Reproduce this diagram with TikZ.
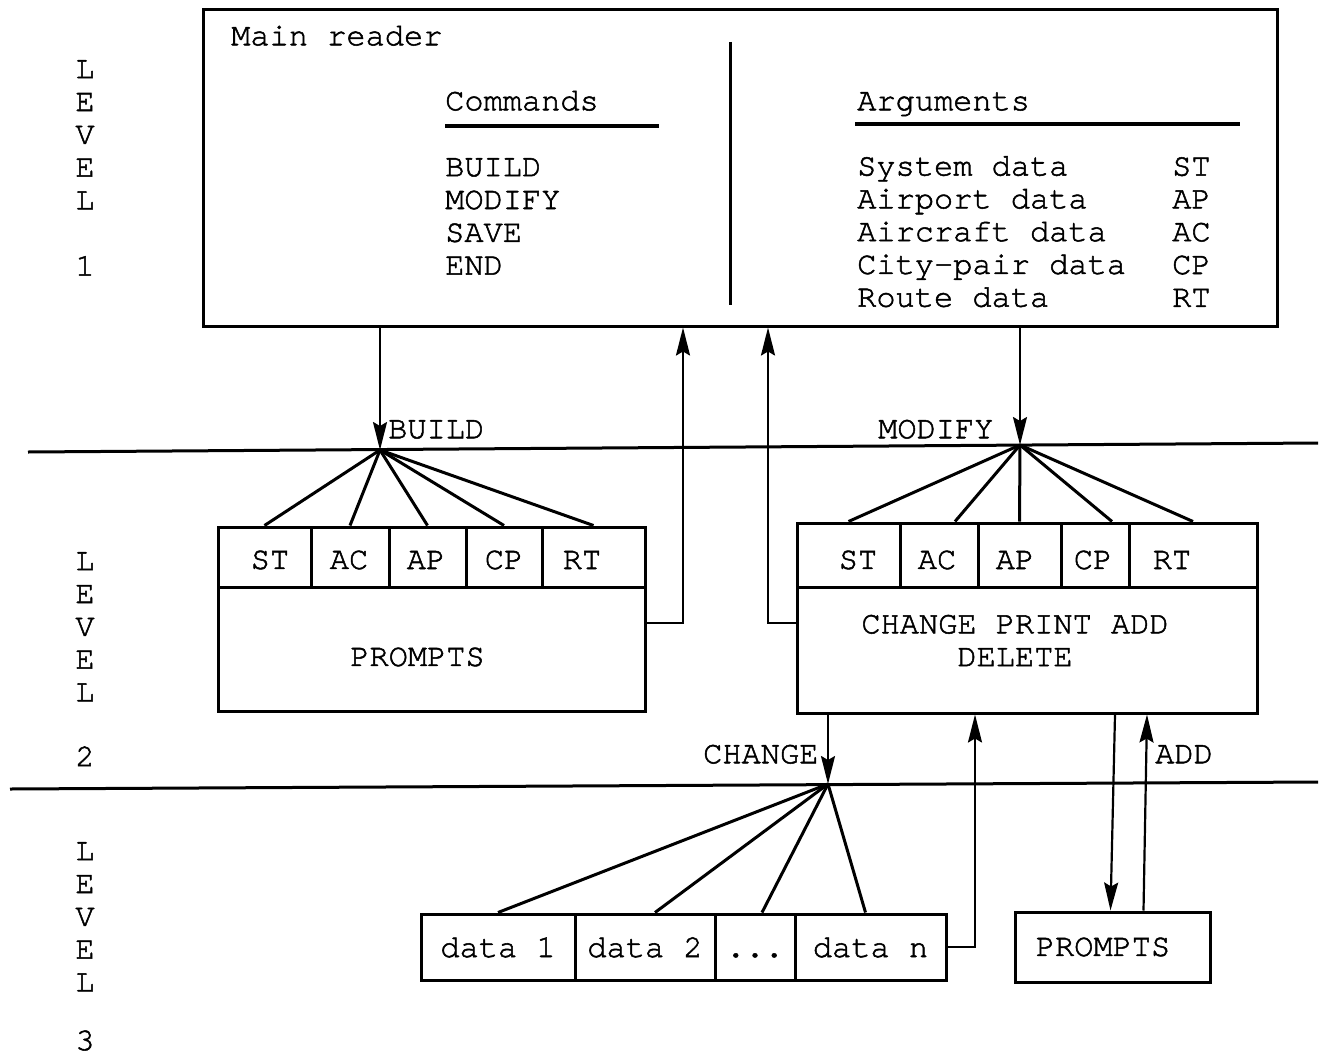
\documentclass[tikz,border=0pt]{standalone}
\usepackage{fontspec}
\setmainfont{texgyrecursor-regular.otf}[UprightFeatures={FakeBold=1.6}]
\usetikzlibrary{arrows.meta}
\tikzset{
  every node/.style={font=\fontsize{32}{32.8}\selectfont, inner sep=0pt},
  box/.style={draw, line width=3pt, rectangle, inner sep=0pt},
  txt/.style={anchor=west, text height=18.5pt, text depth=0pt},
  cellt/.style={text height=20pt, text depth=0pt},
  col/.style={anchor=north west, align=left},
  lvl/.style={anchor=north, align=center},
  fan/.style={line width=3pt},
  rule/.style={line width=3pt},
  uline/.style={line width=4pt},
  flow/.style={line width=2.2pt, -{Stealth[length=28pt,width=14pt,inset=4pt]}},
}
\begin{document}
\begin{tikzpicture}[x=1pt,y=-1pt]
\useasboundingbox (0,0) rectangle (1324,1057);

% ---- level 1: main reader ----
\node[box, minimum width=1074pt, minimum height=316pt] (main) at (740,168) {};
\node[txt] (title) at (231,36) {Main reader};
\node[txt] (cmdhead) at (445,101) {Commands};
\draw[uline] (445,126) -- (659,126);
\node[col] (cmds) at (445,158) {BUILD\\MODIFY\\SAVE\\END};
\draw[rule] (730,42) -- (730,305);
\node[txt] (arghead) at (857,101) {Arguments};
\draw[uline] (855,124) -- (1240,124);
\node[col] (argnames) at (857,156) {System data\\Airport data\\Aircraft data\\City-pair data\\Route data};
\node[col] (argcodes) at (1172,157) {ST\\AP\\AC\\CP\\RT};

% ---- level captions ----
\node[lvl] (lvl1) at (85,60) {L\\E\\V\\E\\L\\[33.5pt]1};
\node[lvl] (lvl2) at (85,552) {L\\E\\V\\E\\L\\[32pt]2};
\node[lvl] (lvl3) at (85,842) {L\\E\\V\\E\\L\\[26pt]3};

% ---- level separators ----
\draw[rule] (28,452) -- (1318,443);
\draw[rule] (10,789) -- (1318,782);

\coordinate (bhub) at (380,450);
\coordinate (mhub) at (1020,445);
\coordinate (chub) at (828,784);

% ---- level 2: BUILD group ----
\node[box, minimum width=93pt, minimum height=60pt, label={[xshift=5.5pt,yshift=-3pt]center:ST}] (st1) at (264.5,557) {};
\node[box, minimum width=78pt, minimum height=60pt, label={[xshift=-1pt,yshift=-3pt]center:AC}] (ac1) at (350,557) {};
\node[box, minimum width=77pt, minimum height=60pt, label={[xshift=-1.5pt,yshift=-3pt]center:AP}] (ap1) at (427.5,557) {};
\node[box, minimum width=76pt, minimum height=60pt, label={[yshift=-3pt]center:CP}] (cp1) at (504,557) {};
\node[box, minimum width=103pt, minimum height=60pt, label={[xshift=-11.5pt,yshift=-3pt]center:RT}] (rt1) at (593.5,557) {};
\node[box, minimum width=427pt, minimum height=124pt, label={[xshift=-14pt,yshift=-8pt]center:PROMPTS}] (pr1) at (431.5,649) {};

% ---- level 2: MODIFY group ----
\node[box, minimum width=103pt, minimum height=64pt, label={[xshift=9.5pt,yshift=-5pt]center:ST}] (st2) at (848.5,555) {};
\node[box, minimum width=78pt, minimum height=64pt, label={[xshift=-2pt,yshift=-5pt]center:AC}] (ac2) at (939,555) {};
\node[box, minimum width=83pt, minimum height=64pt, label={[xshift=-4.5pt,yshift=-5pt]center:AP}] (ap2) at (1019.5,555) {};
\node[box, minimum width=68pt, minimum height=64pt, label={[xshift=-2pt,yshift=-5pt]center:CP}] (cp2) at (1095,555) {};
\node[box, minimum width=128pt, minimum height=64pt, label={[xshift=-21pt,yshift=-5pt]center:RT}] (rt2) at (1193,555) {};
\node[box, minimum width=460pt, minimum height=126pt, label={[xshift=-12pt,yshift=9.5pt,align=center]center:CHANGE PRINT ADD\\DELETE}] (pr2) at (1027,650) {};

% ---- level 3 ----
\node[box, cellt, minimum width=154pt, minimum height=66pt] (d1) at (498,947) {data 1};
\node[box, cellt, minimum width=140pt, minimum height=66pt] (d2) at (645,947) {data 2};
\node[box, cellt, minimum width=80pt, minimum height=66pt] (d3) at (755,947) {...};
\node[box, cellt, minimum width=151pt, minimum height=66pt] (dn) at (870.5,947) {data n};
\node[box, minimum width=195pt, minimum height=70pt, label={[xshift=-9.5pt]center:PROMPTS}] (pr3) at (1112.5,947) {};

% ---- fans ----
\foreach \c in {st1,ac1,ap1,cp1,rt1} \draw[fan] (bhub) -- (\c.north);
\draw[fan] (mhub) -- (st2.north);
\draw[fan] (mhub) -- ([xshift=16pt]ac2.north);
\draw[fan] (mhub) -- (ap2.north);
\draw[fan] (mhub) -- ([xshift=17pt]cp2.north);
\draw[fan] (mhub) -- (rt2.north);
\draw[fan] (chub) -- (d1.north);
\draw[fan] (chub) -- ([xshift=10pt]d2.north);
\draw[fan] (chub) -- ([xshift=7pt]d3.north);
\draw[fan] (chub) -- ([xshift=-5pt]dn.north);

% ---- control flow ----
\draw[flow] (main.south -| bhub) -- (bhub);
\draw[flow] ([yshift=26pt]pr1.east) -| ([xshift=-57pt]main.south);
\draw[flow] ([yshift=27pt]pr2.west) -| ([xshift=28pt]main.south);
\draw[flow] (main.south -| mhub) -- (mhub);
\draw[flow] (pr2.south -| chub) -- (chub);
\draw[flow] (dn.east) -| ([xshift=-52pt]pr2.south);
\draw[flow] ([xshift=88pt]pr2.south) -- ([xshift=-2pt]pr3.north);
\draw[flow] ([xshift=31pt]pr3.north) -- ([xshift=120pt]pr2.south);

\node[txt] (buildlbl) at (388,429) {BUILD};
\node[txt] (modlbl) at (878,429) {MODIFY};
\node[txt] (chglbl) at (703,754) {CHANGE};
\node[txt] (addlbl) at (1155,754) {ADD};
\end{tikzpicture}
\end{document}
